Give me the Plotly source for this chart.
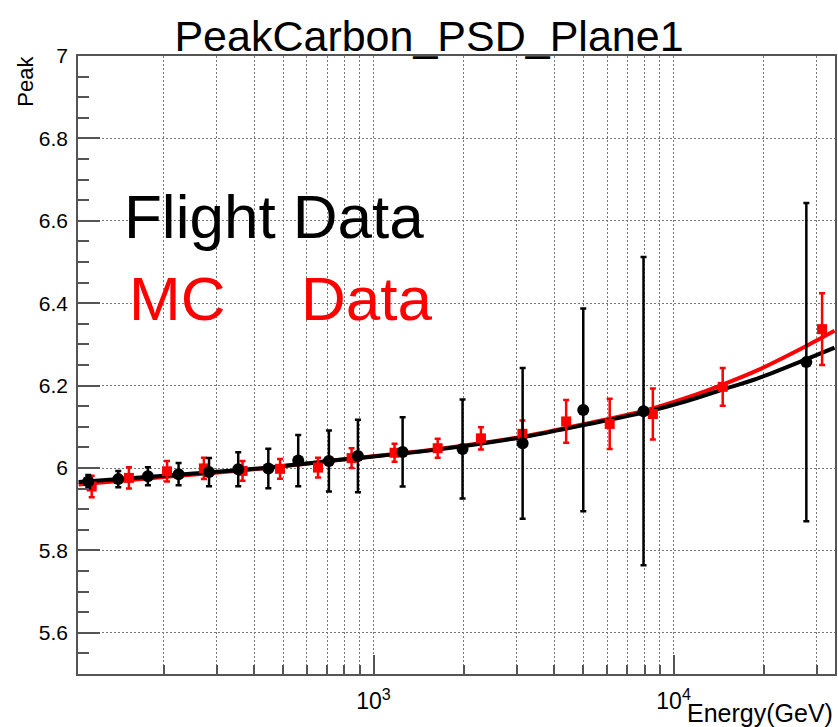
import plotly.graph_objects as go

# ---- data ----
flight_E = [112, 141, 177, 224, 283, 354, 446, 561, 710, 887, 1250, 1980, 3140, 5000, 7940, 27700]
flight_peak = [5.967, 5.973, 5.980, 5.985, 5.990, 5.997, 5.999, 6.018, 6.017, 6.029, 6.039, 6.046, 6.060, 6.141, 6.138, 6.257]
flight_err = [0.016, 0.020, 0.022, 0.027, 0.034, 0.041, 0.048, 0.062, 0.074, 0.088, 0.084, 0.120, 0.183, 0.246, 0.374, 0.386]

mc_E = [115, 153, 205, 272, 366, 488, 653, 845, 1175, 1636, 2280, 3135, 4385, 6125, 8530, 14580, 31260]
mc_peak = [5.955, 5.976, 5.992, 5.999, 5.993, 5.998, 6.001, 6.024, 6.037, 6.048, 6.072, 6.083, 6.113, 6.107, 6.131, 6.197, 6.337]
mc_err = [0.026, 0.026, 0.025, 0.026, 0.024, 0.024, 0.024, 0.024, 0.022, 0.023, 0.027, 0.032, 0.052, 0.061, 0.062, 0.046, 0.087]

# fit curves
fit_E = [104, 200, 400, 800, 1600, 3200, 5000, 8000, 11000, 14500, 19000, 27500, 34400]
fit_flight = [5.966, 5.981, 5.998, 6.021, 6.044, 6.076, 6.104, 6.135, 6.162, 6.190, 6.217, 6.263, 6.292]
fit_mc = [5.960, 5.978, 5.997, 6.021, 6.045, 6.077, 6.106, 6.139, 6.170, 6.202, 6.237, 6.295, 6.333]

y_ticks = [5.6, 5.8, 6.0, 6.2, 6.4, 6.6, 6.8, 7.0]
y_ticktext = ["5.6", "5.8", "6", "6.2", "6.4", "6.6", "6.8", "7"]
x_major = [1000, 10000]
x_major_text = ["10<sup>3</sup>", "10<sup>4</sup>"]
x_minor = [200, 300, 400, 500, 600, 700, 800, 900,
           2000, 3000, 4000, 5000, 6000, 7000, 8000, 9000, 20000, 30000]

W, H = 838, 727
L, R, T, B = 78, 1, 56, 53
FONT = "Liberation Sans, Arial, Helvetica, sans-serif"

fig = go.Figure()
fig.add_trace(go.Scatter(x=fit_E, y=fit_mc, mode="lines",
                         line=dict(color="#ff0000", width=4, shape="spline", smoothing=0.8),
                         hoverinfo="skip", showlegend=False))
fig.add_trace(go.Scatter(x=fit_E, y=fit_flight, mode="lines",
                         line=dict(color="#000000", width=4, shape="spline", smoothing=0.8),
                         hoverinfo="skip", showlegend=False))
fig.add_trace(go.Scatter(x=mc_E, y=mc_peak, mode="markers",
                         marker=dict(symbol="square", size=10, color="#ff0000"),
                         error_y=dict(type="data", array=mc_err, color="#ff0000", thickness=2.5, width=3),
                         showlegend=False))
fig.add_trace(go.Scatter(x=flight_E, y=flight_peak, mode="markers",
                         marker=dict(symbol="circle", size=12, color="#000000"),
                         error_y=dict(type="data", array=flight_err, color="#000000", thickness=2.5, width=3),
                         showlegend=False))

grid_kw = dict(gridcolor="#777777", gridwidth=1, griddash="2px,2px")

fig.update_xaxes(type="log", range=[2.015, 4.538],
                 tickmode="array", tickvals=x_major, ticktext=x_major_text,
                 ticks="inside", ticklen=19, tickwidth=1.5, tickcolor="#555555",
                 showgrid=True, **grid_kw,
                 minor=dict(tickmode="array", tickvals=x_minor, ticks="inside", ticklen=9,
                            tickwidth=1.5, tickcolor="#555555", showgrid=True,
                            gridcolor="#777777", gridwidth=1, griddash="2px,2px"),
                 showline=True, linecolor="#555555", linewidth=1.5, mirror=True,
                 tickfont=dict(family=FONT, size=23, color="#000000"),
                 ticklabelstandoff=6, zeroline=False)
fig.update_yaxes(range=[5.5, 7.0],
                 tickmode="array", tickvals=y_ticks, ticktext=y_ticktext,
                 ticks="inside", ticklen=22, tickwidth=1.5, tickcolor="#555555",
                 showgrid=True, **grid_kw,
                 minor=dict(dtick=0.05, tick0=5.5, ticks="inside", ticklen=11, tickwidth=1.5,
                            tickcolor="#555555", showgrid=False),
                 showline=True, linecolor="#555555", linewidth=1.5, mirror=True,
                 tickfont=dict(family=FONT, size=21, color="#000000"),
                 ticklabelstandoff=4, zeroline=False)

annotations = [
    dict(text="Flight Data", x=(122 - L) / (W - L - R), y=1 - (216 - T) / (H - T - B),
         xref="paper", yref="paper", xanchor="left", yanchor="middle", showarrow=False,
         font=dict(family=FONT, size=62, color="#000000")),
    dict(text="MC", x=(127 - L) / (W - L - R), y=1 - (298 - T) / (H - T - B),
         xref="paper", yref="paper", xanchor="left", yanchor="middle", showarrow=False,
         font=dict(family=FONT, size=62, color="#ff0000")),
    dict(text="Data", x=(300 - L) / (W - L - R), y=1 - (298 - T) / (H - T - B),
         xref="paper", yref="paper", xanchor="left", yanchor="middle", showarrow=False,
         font=dict(family=FONT, size=62, color="#ff0000")),
    dict(text="Peak", x=25 / W, y=1 - 54 / H, xref="paper", yref="paper",
         xanchor="center", yanchor="top", textangle=-90, showarrow=False,
         font=dict(family=FONT, size=22, color="#000000")),
    dict(text="Energy(GeV)", x=837 / W, y=1 - 729 / H, xref="paper", yref="paper",
         xanchor="right", yanchor="bottom", showarrow=False,
         font=dict(family=FONT, size=25, color="#000000")),
]
# convert container-relative annotations (Peak, Energy) to paper coords
for a in annotations[3:]:
    px = a["x"] * W
    py = (1 - a["y"]) * H
    a["x"] = (px - L) / (W - L - R)
    a["y"] = 1 - (py - T) / (H - T - B)

fig.update_layout(
    width=W, height=H,
    margin=dict(l=L, r=R, t=T, b=B, pad=0),
    paper_bgcolor="#ffffff", plot_bgcolor="#ffffff",
    title=dict(text="PeakCarbon_PSD_Plane1", x=429 / W, xanchor="center", xref="container",
               y=1 - 36 / H, yanchor="middle", yref="container",
               font=dict(family=FONT, size=43, color="#000000")),
    annotations=annotations,
    showlegend=False,
)

fig.write_html("out.html")
